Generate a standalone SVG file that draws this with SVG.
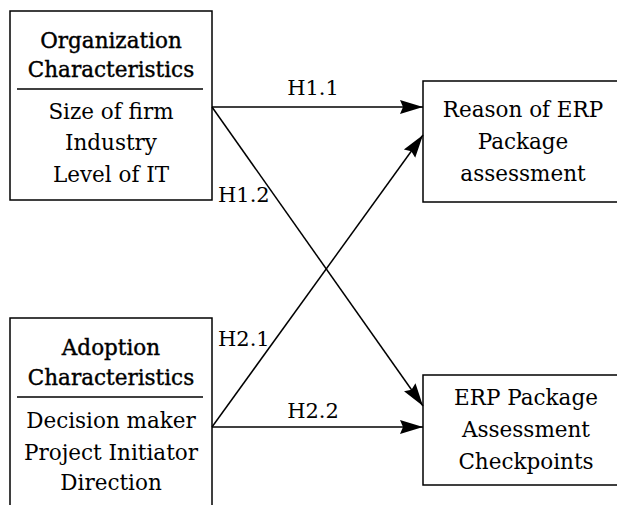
<svg xmlns="http://www.w3.org/2000/svg" width="617" height="505" viewBox="0 0 617 505">
<style>
.box{fill:#fff;stroke:#000;stroke-width:1.5}
.div{stroke:#000;stroke-width:1.3}
.t{font-family:"DejaVu Serif","Liberation Serif",serif;font-size:21.5px;fill:#000;text-anchor:middle}
.h{stroke:#000;stroke-width:0.4}
.lbl{font-family:"DejaVu Serif","Liberation Serif",serif;font-size:21px;fill:#000}
.c{stroke:#000;stroke-width:1.5;fill:none;marker-end:url(#ah)}
</style>
<defs>
<marker id="ah" markerUnits="userSpaceOnUse" markerWidth="24" markerHeight="16" refX="23" refY="8" orient="auto">
<path d="M0,1 L23,8 L0,15 L3,8 Z" fill="#000"/>
</marker>
</defs>
<rect width="617" height="505" fill="#fff"/>
<g id="org">
<rect class="box" x="10" y="11" width="202" height="189"/>
<line class="div" x1="17" y1="89" x2="203" y2="89"/>
<text class="t h" x="111" y="48">Organization</text>
<text class="t h" x="111" y="77">Characteristics</text>
<text class="t" x="111" y="119">Size of firm</text>
<text class="t" x="111" y="150">Industry</text>
<text class="t" x="111" y="182">Level of IT</text>
</g>
<g id="adopt">
<rect class="box" x="10" y="318" width="202" height="200"/>
<line class="div" x1="17" y1="397" x2="203" y2="397"/>
<text class="t h" x="111" y="355">Adoption</text>
<text class="t h" x="111" y="385">Characteristics</text>
<text class="t" x="111" y="428">Decision maker</text>
<text class="t" x="111" y="460">Project Initiator</text>
<text class="t" x="111" y="490">Direction</text>
</g>
<g id="reason">
<rect class="box" x="423" y="81" width="210" height="121"/>
<text class="t" x="523" y="117">Reason of ERP</text>
<text class="t" x="523" y="149">Package</text>
<text class="t" x="523" y="181">assessment</text>
</g>
<g id="check">
<rect class="box" x="423" y="375" width="210" height="110"/>
<text class="t" x="526" y="405">ERP Package</text>
<text class="t" x="526" y="437">Assessment</text>
<text class="t" x="526" y="469">Checkpoints</text>
</g>
<g id="connectors">
<line class="c" x1="212" y1="107" x2="423" y2="107"/>
<line class="c" x1="212" y1="107" x2="423" y2="406"/>
<line class="c" x1="212" y1="427" x2="423" y2="135"/>
<line class="c" x1="212" y1="427" x2="423" y2="427"/>
<text class="lbl" x="313" y="95" text-anchor="middle">H1.1</text>
<text class="lbl" x="218" y="202">H1.2</text>
<text class="lbl" x="218" y="346">H2.1</text>
<text class="lbl" x="313" y="418" text-anchor="middle">H2.2</text>
</g>
</svg>
